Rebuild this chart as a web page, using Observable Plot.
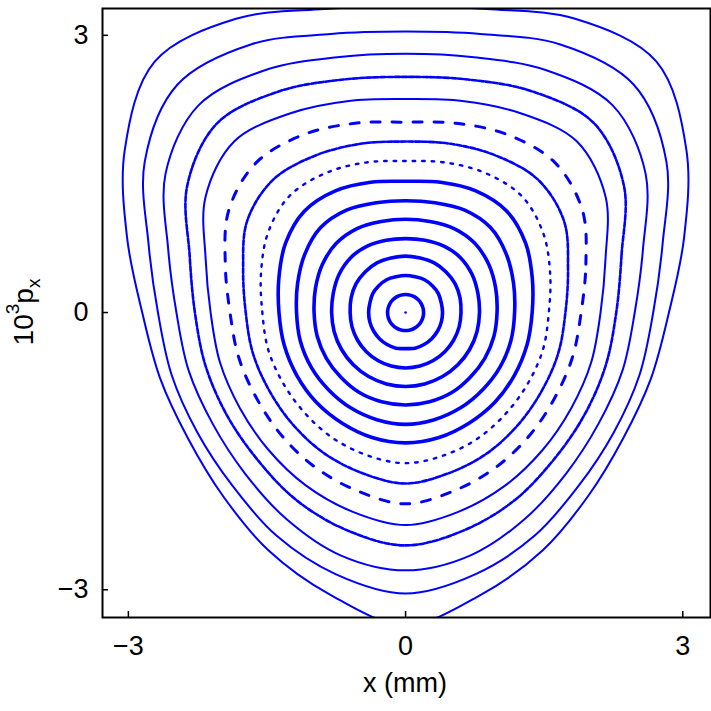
<!DOCTYPE html>
<html><head><meta charset="utf-8">
<script src="https://cdn.jsdelivr.net/npm/d3@7"></script>
<script src="https://cdn.jsdelivr.net/npm/@observablehq/plot@0.6"></script>
<style>body{margin:0;background:#fff}</style>
</head><body><div id="chart"></div>
<script>
// polar sampling angles (degrees), counter-clockwise from +x
const angles = [0,15,30,45,60,75,90,105,120,135,150,165,180,195,210,225,240,255,270,285,300,315,330,345];
// radius of each orbit at those angles (units: x in mm, p in 1e-3), outermost first
const orbit1  = [2.85,3.12,3.51,3.84,3.67,3.40,3.32,3.40,3.67,3.84,3.51,3.12,2.85,2.75,2.72,2.80,2.97,3.16,3.38,3.16,2.97,2.80,2.72,2.75];
const orbit2  = [2.68,2.88,3.26,3.49,3.35,3.12,3.04,3.12,3.35,3.49,3.26,2.88,2.68,2.62,2.60,2.65,2.79,2.93,3.04,2.93,2.79,2.65,2.60,2.62];
const orbit3  = [2.48,2.66,3.00,3.17,3.03,2.86,2.80,2.86,3.03,3.17,3.00,2.66,2.48,2.43,2.41,2.46,2.58,2.72,2.79,2.72,2.58,2.46,2.41,2.43];
const orbit4  = [2.28,2.42,2.73,2.89,2.76,2.61,2.55,2.61,2.76,2.89,2.73,2.42,2.28,2.24,2.23,2.26,2.35,2.44,2.52,2.44,2.35,2.26,2.23,2.24];
const orbit5  = [2.11,2.24,2.50,2.62,2.49,2.37,2.31,2.37,2.49,2.62,2.50,2.24,2.11,2.08,2.07,2.10,2.16,2.23,2.30,2.23,2.16,2.10,2.07,2.08];
const orbit6  = [1.90,2.02,2.21,2.29,2.22,2.12,2.06,2.12,2.22,2.29,2.21,2.02,1.90,1.87,1.86,1.89,1.94,2.00,2.07,2.00,1.94,1.89,1.86,1.87];
const orbit7  = [1.73,1.82,1.98,2.03,1.96,1.89,1.85,1.89,1.96,2.03,1.98,1.82,1.73,1.71,1.70,1.72,1.76,1.80,1.85,1.80,1.76,1.72,1.70,1.71];
const orbit8  = [1.55,1.62,1.72,1.78,1.74,1.68,1.64,1.68,1.74,1.78,1.72,1.62,1.55,1.54,1.53,1.54,1.57,1.60,1.63,1.60,1.57,1.54,1.53,1.54];
const orbit9  = [1.37,1.42,1.50,1.55,1.52,1.46,1.42,1.46,1.52,1.55,1.50,1.42,1.37,1.36,1.36,1.37,1.38,1.40,1.41,1.40,1.38,1.37,1.36,1.36];
const orbit10 = [1.18,1.21,1.26,1.30,1.28,1.23,1.21,1.23,1.28,1.30,1.26,1.21,1.18,1.18,1.18,1.18,1.19,1.20,1.21,1.20,1.19,1.18,1.18,1.18];
const orbit11 = [0.99,1.01,1.04,1.06,1.05,1.02,1.01,1.02,1.05,1.06,1.04,1.01,0.99,0.99,0.99,0.99,1.00,1.00,1.00,1.00,1.00,0.99,0.99,0.99];
const orbit12 = [0.80,0.81,0.83,0.84,0.83,0.81,0.80,0.81,0.83,0.84,0.83,0.81,0.80,0.80,0.80,0.80,0.80,0.80,0.80,0.80,0.80,0.80,0.80,0.80];
const orbit13 = [0.60,0.61,0.62,0.62,0.62,0.61,0.61,0.61,0.62,0.62,0.62,0.61,0.60,0.60,0.60,0.60,0.60,0.60,0.60,0.60,0.60,0.60,0.60,0.60];
const orbit14 = [0.40,0.40,0.41,0.41,0.41,0.40,0.40,0.40,0.41,0.41,0.41,0.40,0.40,0.40,0.40,0.40,0.40,0.40,0.39,0.40,0.40,0.40,0.40,0.40];
const orbit15 = [0.195,0.195,0.195,0.195,0.195,0.195,0.195,0.195,0.195,0.195,0.195,0.195,0.195,0.195,0.195,0.195,0.195,0.195,0.195,0.195,0.195,0.195,0.195,0.195];
const fixedPoint = [{x: 0, y: 0}];

const xTicks = [-3, 0, 3];
const yTicks = [-3, 0, 3];
const xDomain = [-3.28, 3.30];
const yDomain = [-3.30, 3.29];

const orbits = [orbit1,orbit2,orbit3,orbit4,orbit5,orbit6,orbit7,orbit8,orbit9,orbit10,orbit11,orbit12,orbit13,orbit14,orbit15];
const rows = [];
orbits.forEach((radii, i) => {
  angles.forEach((a, j) => {
    const t = a * Math.PI / 180;
    rows.push({orbit: i + 1, x: radii[j] * Math.cos(t), y: radii[j] * Math.sin(t)});
  });
});
const pick = ids => rows.filter(d => ids.includes(d.orbit));
const blue = "#0000ff";
const fmt = d => d < 0 ? "\u2212" + Math.abs(d) : String(d);
const base = {x: "x", y: "y", z: "orbit", curve: "catmull-rom-closed", stroke: blue, clip: true};

const plot = Plot.plot({
  width: 711, height: 711,
  marginLeft: 102, marginRight: 1, marginTop: 8, marginBottom: 94,
  style: {fontFamily: "'Liberation Sans', Arial, sans-serif", fontSize: "27px", background: "white", color: "black"},
  x: {domain: xDomain, ticks: xTicks, tickSize: 0, tickPadding: 18, tickFormat: fmt, label: null},
  y: {domain: yDomain, ticks: yTicks, tickSize: 0, tickPadding: 14, tickFormat: fmt, label: null},
  marks: [
    Plot.line(pick([1,2,3,5]), {...base, strokeWidth: 2}),
    Plot.line(pick([4,7]), {...base, strokeWidth: 2.6, strokeDasharray: "5,2"}),
    Plot.line(pick([6]), {...base, strokeWidth: 3, strokeDasharray: "9,12"}),
    Plot.line(pick([8]), {...base, strokeWidth: 2.4, strokeDasharray: "2.5,7"}),
    Plot.line(pick([9,10,11,12,13,14,15]), {...base, strokeWidth: 3.6}),
    Plot.dot(fixedPoint, {x: "x", y: "y", r: 1.3, fill: blue}),
    Plot.frame({stroke: "black", strokeWidth: 2}),
    Plot.tickX(xTicks, {x: d => d, insetTop: 603, stroke: "black", strokeWidth: 1.5}),
    Plot.tickY(yTicks, {y: d => d, insetRight: 602, stroke: "black", strokeWidth: 1.5})
  ]
});
document.getElementById("chart").appendChild(plot);

const svg = d3.select(plot);
svg.append("text")
  .attr("x", 405).attr("y", 692)
  .attr("text-anchor", "middle")
  .attr("font-size", 27)
  .attr("fill", "black")
  .text("x (mm)");
const yl = svg.append("text")
  .attr("transform", "translate(33,312) rotate(-90)")
  .attr("text-anchor", "middle")
  .attr("font-size", 28)
  .attr("fill", "black");
yl.append("tspan").text("10");
yl.append("tspan").attr("dy", -14).attr("font-size", 19).text("3");
yl.append("tspan").attr("dy", 14).text("p");
yl.append("tspan").attr("dy", 7).attr("font-size", 19).text("x");
</script>
</body></html>
